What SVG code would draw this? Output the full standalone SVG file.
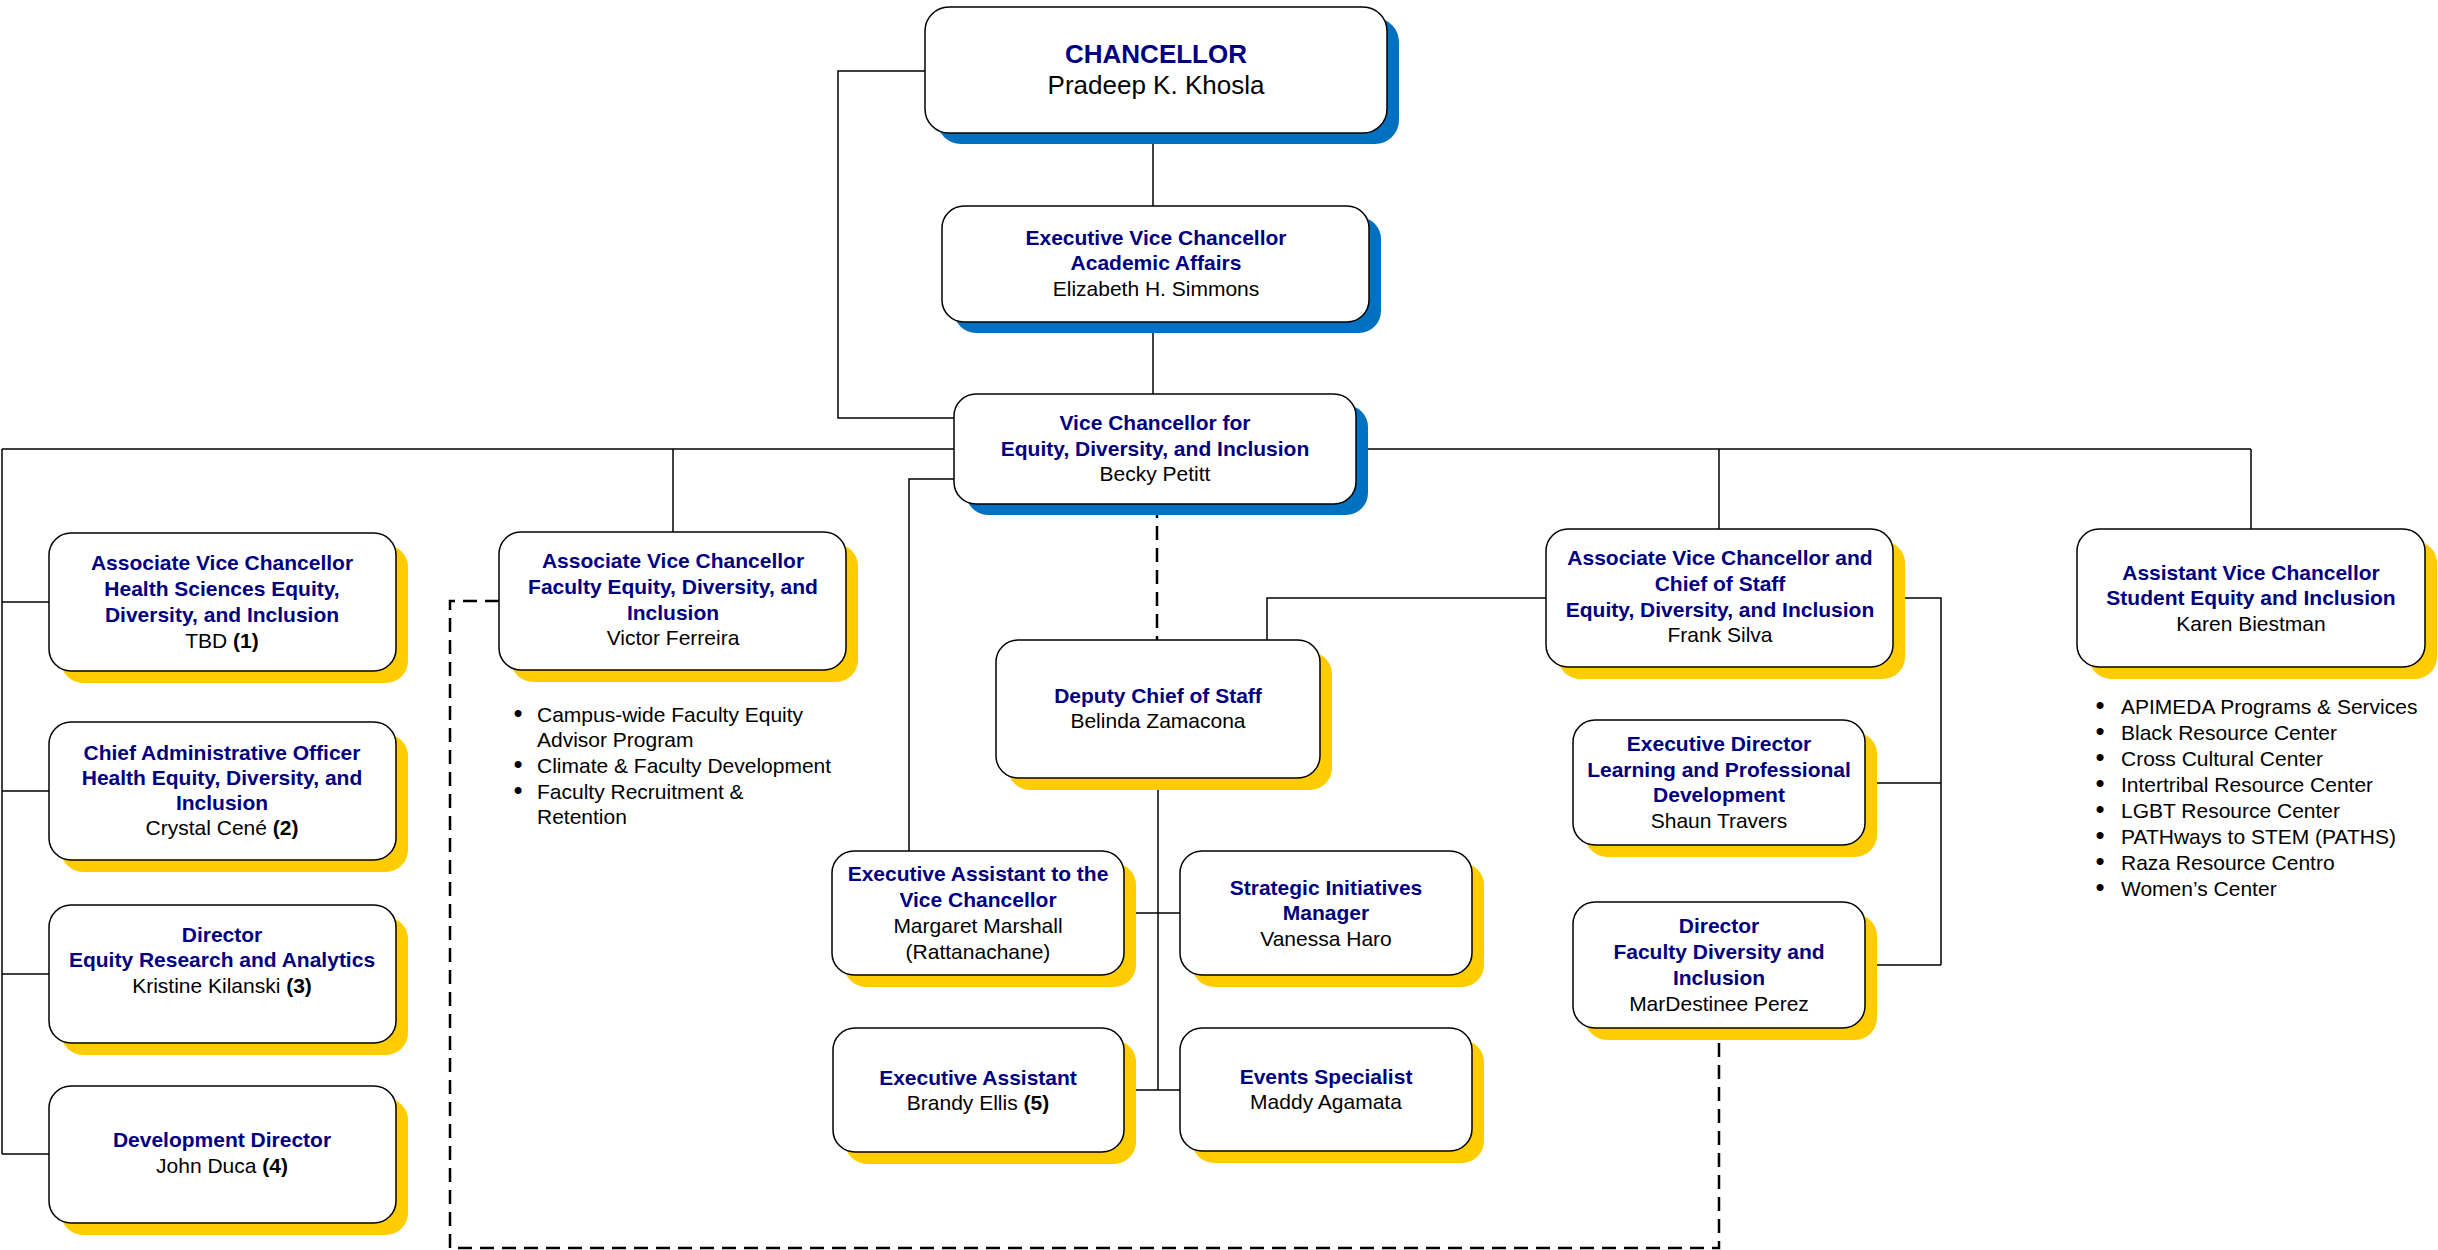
<svg xmlns="http://www.w3.org/2000/svg" width="2438" height="1250" viewBox="0 0 2438 1250">
<style>
.box{fill:#fff;stroke:#000;stroke-width:1.5}
.sb{fill:#0070C0}
.sy{fill:#FFCC00}
.ln{fill:none;stroke:#000;stroke-width:1.5}
.dl{fill:none;stroke:#000;stroke-width:2.5;stroke-dasharray:14 8}
text{font-family:"Liberation Sans",Arial,sans-serif;font-size:21px;text-anchor:middle;fill:#000}
.t{font-weight:bold;fill:#000080}
.b{font-weight:bold}
.big{font-size:26px}
.lst{text-anchor:start}
.bul{text-anchor:middle;font-size:26px}
</style>
<rect width="2438" height="1250" fill="#fff"/>
<g id="connectors">
<path class="ln" d="M925,71 H838 V418 H954"/>
<path class="ln" d="M1153,133 V206"/>
<path class="ln" d="M1153,322 V394"/>
<path class="ln" d="M2,449 H2251"/>
<path class="ln" d="M2,449 V1154"/>
<path class="ln" d="M2,602 H49 M2,791 H49 M2,974 H49 M2,1154 H49"/>
<path class="ln" d="M673,449 V532"/>
<path class="ln" d="M1719,449 V529"/>
<path class="ln" d="M2251,449 V529"/>
<path class="ln" d="M954,479 H909 V851"/>
<path class="ln" d="M1893,598 H1941 V965 M1865,783 H1941 M1865,965 H1941"/>
<path class="ln" d="M1546,598 H1267 V640"/>
<path class="ln" d="M1158,778 V1090"/>
<path class="ln" d="M1124,913 H1180 M1124,1090 H1180"/>
<path class="dl" d="M1157,504 V640"/>
<path class="dl" d="M499,601 H450 V1248 H1719 V1028"/>
</g>
<g id="chancellor">
<rect class="sb" x="937" y="18" width="462" height="126" rx="24"/>
<rect class="box" x="925" y="7" width="462" height="126" rx="24"/>
<text class="t big" x="1156" y="63">CHANCELLOR</text>
<text class="big" x="1156" y="94">Pradeep K. Khosla</text>
</g>
<g id="evc">
<rect class="sb" x="954" y="217" width="427" height="116" rx="22"/>
<rect class="box" x="942" y="206" width="427" height="116" rx="22"/>
<text class="t" x="1156" y="245">Executive Vice Chancellor</text>
<text class="t" x="1156" y="270">Academic Affairs</text>
<text x="1156" y="296">Elizabeth H. Simmons</text>
</g>
<g id="vc">
<rect class="sb" x="966" y="405" width="402" height="110" rx="22"/>
<rect class="box" x="954" y="394" width="402" height="110" rx="22"/>
<text class="t" x="1155" y="430">Vice Chancellor for</text>
<text class="t" x="1155" y="456">Equity, Diversity, and Inclusion</text>
<text x="1155" y="481">Becky Petitt</text>
</g>
<g id="avc-health">
<rect class="sy" x="61" y="545" width="347" height="138" rx="22"/>
<rect class="box" x="49" y="533" width="347" height="138" rx="22"/>
<text class="t" x="222" y="570">Associate Vice Chancellor</text>
<text class="t" x="222" y="596">Health Sciences Equity,</text>
<text class="t" x="222" y="622">Diversity, and Inclusion</text>
<text x="222" y="648">TBD <tspan class="b">(1)</tspan></text>
</g>
<g id="cao">
<rect class="sy" x="61" y="734" width="347" height="138" rx="22"/>
<rect class="box" x="49" y="722" width="347" height="138" rx="22"/>
<text class="t" x="222" y="760">Chief Administrative Officer</text>
<text class="t" x="222" y="785">Health Equity, Diversity, and</text>
<text class="t" x="222" y="810">Inclusion</text>
<text x="222" y="835">Crystal Cené <tspan class="b">(2)</tspan></text>
</g>
<g id="dir-era">
<rect class="sy" x="61" y="917" width="347" height="138" rx="22"/>
<rect class="box" x="49" y="905" width="347" height="138" rx="22"/>
<text class="t" x="222" y="942">Director</text>
<text class="t" x="222" y="967">Equity Research and Analytics</text>
<text x="222" y="993">Kristine Kilanski <tspan class="b">(3)</tspan></text>
</g>
<g id="dev-dir">
<rect class="sy" x="61" y="1098" width="347" height="137" rx="22"/>
<rect class="box" x="49" y="1086" width="347" height="137" rx="22"/>
<text class="t" x="222" y="1147">Development Director</text>
<text x="222" y="1173">John Duca <tspan class="b">(4)</tspan></text>
</g>
<g id="avc-faculty">
<rect class="sy" x="511" y="544" width="347" height="138" rx="22"/>
<rect class="box" x="499" y="532" width="347" height="138" rx="22"/>
<text class="t" x="673" y="568">Associate Vice Chancellor</text>
<text class="t" x="673" y="594">Faculty Equity, Diversity, and</text>
<text class="t" x="673" y="620">Inclusion</text>
<text x="673" y="645">Victor Ferreira</text>
</g>
<g id="faculty-list">
<text class="bul" x="518" y="722">•</text>
<text class="lst" x="537" y="722">Campus-wide Faculty Equity</text>
<text class="lst" x="537" y="747">Advisor Program</text>
<text class="bul" x="518" y="773">•</text>
<text class="lst" x="537" y="773">Climate &amp; Faculty Development</text>
<text class="bul" x="518" y="799">•</text>
<text class="lst" x="537" y="799">Faculty Recruitment &amp;</text>
<text class="lst" x="537" y="824">Retention</text>
</g>
<g id="deputy">
<rect class="sy" x="1008" y="652" width="324" height="138" rx="22"/>
<rect class="box" x="996" y="640" width="324" height="138" rx="22"/>
<text class="t" x="1158" y="703">Deputy Chief of Staff</text>
<text x="1158" y="728">Belinda Zamacona</text>
</g>
<g id="ea-vc">
<rect class="sy" x="844" y="863" width="292" height="124" rx="22"/>
<rect class="box" x="832" y="851" width="292" height="124" rx="22"/>
<text class="t" x="978" y="881">Executive Assistant to the</text>
<text class="t" x="978" y="907">Vice Chancellor</text>
<text x="978" y="933">Margaret Marshall</text>
<text x="978" y="959">(Rattanachane)</text>
</g>
<g id="strategic">
<rect class="sy" x="1192" y="863" width="292" height="124" rx="22"/>
<rect class="box" x="1180" y="851" width="292" height="124" rx="22"/>
<text class="t" x="1326" y="895">Strategic Initiatives</text>
<text class="t" x="1326" y="920">Manager</text>
<text x="1326" y="946">Vanessa Haro</text>
</g>
<g id="exec-asst">
<rect class="sy" x="845" y="1040" width="291" height="124" rx="22"/>
<rect class="box" x="833" y="1028" width="291" height="124" rx="22"/>
<text class="t" x="978" y="1085">Executive Assistant</text>
<text x="978" y="1110">Brandy Ellis <tspan class="b">(5)</tspan></text>
</g>
<g id="events">
<rect class="sy" x="1192" y="1040" width="292" height="123" rx="22"/>
<rect class="box" x="1180" y="1028" width="292" height="123" rx="22"/>
<text class="t" x="1326" y="1084">Events Specialist</text>
<text x="1326" y="1109">Maddy Agamata</text>
</g>
<g id="avc-cos">
<rect class="sy" x="1558" y="541" width="347" height="138" rx="22"/>
<rect class="box" x="1546" y="529" width="347" height="138" rx="22"/>
<text class="t" x="1720" y="565">Associate Vice Chancellor and</text>
<text class="t" x="1720" y="591">Chief of Staff</text>
<text class="t" x="1720" y="617">Equity, Diversity, and Inclusion</text>
<text x="1720" y="642">Frank Silva</text>
</g>
<g id="exec-dir">
<rect class="sy" x="1585" y="732" width="292" height="125" rx="22"/>
<rect class="box" x="1573" y="720" width="292" height="125" rx="22"/>
<text class="t" x="1719" y="751">Executive Director</text>
<text class="t" x="1719" y="777">Learning and Professional</text>
<text class="t" x="1719" y="802">Development</text>
<text x="1719" y="828">Shaun Travers</text>
</g>
<g id="dir-fdi">
<rect class="sy" x="1585" y="914" width="292" height="126" rx="22"/>
<rect class="box" x="1573" y="902" width="292" height="126" rx="22"/>
<text class="t" x="1719" y="933">Director</text>
<text class="t" x="1719" y="959">Faculty Diversity and</text>
<text class="t" x="1719" y="985">Inclusion</text>
<text x="1719" y="1011">MarDestinee Perez</text>
</g>
<g id="asst-vc">
<rect class="sy" x="2089" y="541" width="348" height="138" rx="22"/>
<rect class="box" x="2077" y="529" width="348" height="138" rx="22"/>
<text class="t" x="2251" y="580">Assistant Vice Chancellor</text>
<text class="t" x="2251" y="605">Student Equity and Inclusion</text>
<text x="2251" y="631">Karen Biestman</text>
</g>
<g id="student-list">
<text class="bul" x="2100" y="714">•</text><text class="lst" x="2121" y="714">APIMEDA Programs &amp; Services</text>
<text class="bul" x="2100" y="740">•</text><text class="lst" x="2121" y="740">Black Resource Center</text>
<text class="bul" x="2100" y="766">•</text><text class="lst" x="2121" y="766">Cross Cultural Center</text>
<text class="bul" x="2100" y="792">•</text><text class="lst" x="2121" y="792">Intertribal Resource Center</text>
<text class="bul" x="2100" y="818">•</text><text class="lst" x="2121" y="818">LGBT Resource Center</text>
<text class="bul" x="2100" y="844">•</text><text class="lst" x="2121" y="844">PATHways to STEM (PATHS)</text>
<text class="bul" x="2100" y="870">•</text><text class="lst" x="2121" y="870">Raza Resource Centro</text>
<text class="bul" x="2100" y="896">•</text><text class="lst" x="2121" y="896">Women’s Center</text>
</g>
</svg>
